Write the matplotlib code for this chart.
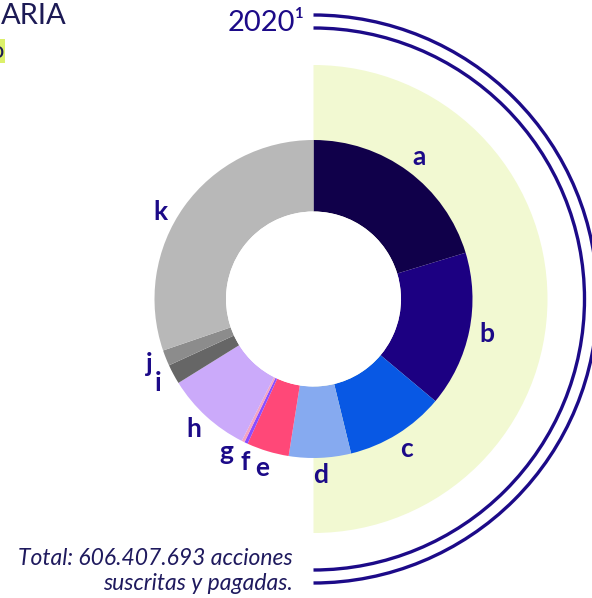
import matplotlib
matplotlib.use("Agg")
import matplotlib.pyplot as plt
import matplotlib.patches as mpatches
import numpy as np

# composicion accionaria 2020 (% de acciones)
labels = ['a', 'b', 'c', 'd', 'e', 'f', 'g', 'h', 'i', 'j', 'k']
shares = [20.3, 15.8, 10.1, 6.3, 4.3, 0.35, 0.3, 8.7, 2.0, 1.6, 30.25]
colors = ['#10004a', '#1c0082', '#0858e4', '#86aaf0', '#ff4878', '#8a4dff',
          '#f5a3c3', '#cbaafa', '#666666', '#8c8c8c', '#b8b8b8']

title = '2020\u00b9'
total_txt = 'Total: 606.407.693 acciones\nsuscritas y pagadas.'

navy = '#1c0a88'

fig = plt.figure(figsize=(5.92, 5.98), dpi=100)
ax = fig.add_axes([0, 0, 1, 1])

cx, cy = 313.5, 299
r_out, r_in = 159, 87.5

# fondo semicircular
bg = mpatches.Wedge((cx, cy), 234, -90, 90, facecolor='#f2f9d2', edgecolor='none', zorder=0)
ax.add_patch(bg)

# arcos dobles
for rr in [271, 284]:
    arc = mpatches.Arc((cx, cy), 2 * rr, 2 * rr, theta1=-90, theta2=90,
                       color=navy, lw=2.4, zorder=1)
    ax.add_patch(arc)

wedges, _ = ax.pie(shares, colors=colors, radius=r_out, center=(cx, cy),
                   startangle=90, counterclock=False,
                   wedgeprops=dict(width=r_out - r_in, linewidth=0))

# hueco blanco
ax.add_patch(mpatches.Circle((cx, cy), r_in, facecolor='white', edgecolor='none', zorder=3))

# etiquetas
nudge = {'f': 2.5, 'g': -3.5, 'k': 6}
for w, lab in zip(wedges, labels):
    mid = (w.theta1 + w.theta2) / 2 + nudge.get(lab, 0)
    rl = r_out * 1.11
    ax.text(cx + rl * np.cos(np.radians(mid)), cy + rl * np.sin(np.radians(mid)),
            lab, ha='center', va='center', fontsize=19, fontweight='bold',
            family='Lato', color=navy)

ax.text(305, 598 - 23, title, ha='right', va='center', fontsize=21,
        family='Lato', color=navy)

ax.text(1, 598 - 16, 'ARIA', ha='left', va='center', fontsize=21,
        family='Lato', color='#1c1a55')
ax.text(4, 598 - 51, 'o', ha='right', va='center', fontsize=17,
        family='Lato', color='#1c1a55',
        bbox=dict(facecolor='#dcf06a', edgecolor='none', pad=1))

ax.text(293, 598 - 571, total_txt, ha='right', va='center', fontsize=16.5,
        family='Lato', style='italic', color='#1f1a5e', linespacing=1.2,
        multialignment='right')

ax.set_xlim(0, 592)
ax.set_ylim(0, 598)
ax.set_aspect('equal')
ax.axis('off')

fig.savefig('out.png', dpi=100)
